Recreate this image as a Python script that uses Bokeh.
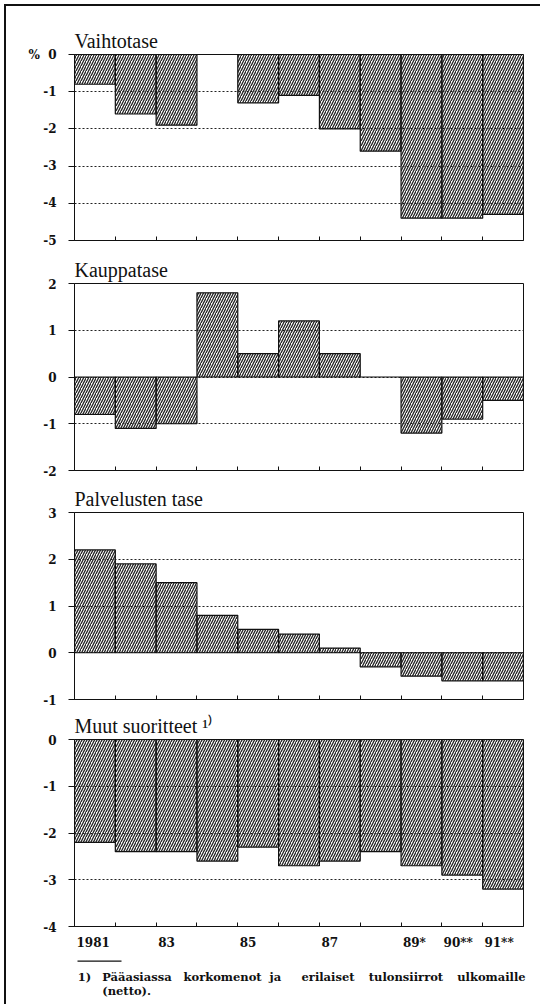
from bokeh.plotting import figure
from bokeh.models import Range1d, FixedTicker, Spacer
from bokeh.layouts import column, row
from bokeh.core.properties import value
from bokeh.embed import file_html
from bokeh.resources import INLINE

# ---- data ----
years = [1981, 1982, 1983, 1984, 1985, 1986, 1987, 1988, 1989, 1990, 1991]
vaihtotase = [-0.8, -1.6, -1.9, 0.0, -1.3, -1.1, -2.0, -2.6, -4.4, -4.4, -4.3]
kauppatase = [-0.8, -1.1, -1.0, 1.8, 0.5, 1.2, 0.5, 0.0, -1.2, -0.9, -0.5]
palvelusten_tase = [2.2, 1.9, 1.5, 0.8, 0.5, 0.4, 0.1, -0.3, -0.5, -0.6, -0.6]
muut_suoritteet = [-2.2, -2.4, -2.4, -2.6, -2.3, -2.7, -2.6, -2.4, -2.7, -2.9, -3.2]

titles = ["Vaihtotase", "Kauppatase", "Palvelusten tase", "Muut suoritteet \u00b9\u207e"]
y_limits = [(-5, 0), (-2, 2), (-1, 3), (-4, 0)]
label_years = [1981, 1983, 1985, 1987, 1989, 1990, 1991]
tick_labels = ["1981", "83", "85", "87", "89*", "90**", "91**"]
footnote_words = ["1)", "P\u00e4\u00e4asiassa", "korkomenot", "ja", "erilaiset", "tulonsiirrot", "ulkomaille"]
footnote_2 = "(netto)."

# ---- layout ----
W = 534
ML, MR = 68, 17
frame_w = W - ML - MR
px_per_year = frame_w / len(years)
TICK_FONT = "DejaVu Serif"
TITLE_FONT = "Liberation Sans Narrow"
INK = "#111111"
TICK_PX = 12


def text_w(s):
    return sum(0.5 * TICK_PX if c == "*" else 0.696 * TICK_PX for c in s)


label_x = [y - 0.5 + (2.0 + text_w(t) / 2) / px_per_year for y, t in zip(label_years, tick_labels)]
boundaries = [y + 0.5 for y in years[:-1]]


def make_panel(title, values, ylim, height, top, bottom, last=False, first=False):
    p = figure(width=W, height=height, output_backend="svg", toolbar_location=None,
               x_range=Range1d(years[0] - 0.5, years[-1] + 0.5),
               y_range=Range1d(*ylim),
               min_border_left=ML, min_border_right=MR,
               min_border_top=top, min_border_bottom=bottom,
               background_fill_color="white", border_fill_color="white",
               outline_line_color=INK, outline_line_width=1)
    p.title.text = title
    p.title.text_font = TITLE_FONT
    p.title.text_font_size = "20px"
    p.title.text_font_style = "normal"
    p.title.text_color = INK
    p.title.align = "left"
    p.title.standoff = 5.5

    p.ygrid.grid_line_color = "#222222"
    p.ygrid.grid_line_dash = "2 2"
    p.ygrid.grid_line_width = 1
    p.xgrid.visible = False

    p.vbar(x=years, top=values, bottom=0, width=1,
           fill_color=None, line_color=INK, line_width=1.2,
           hatch_pattern="/", hatch_scale=5, hatch_weight=1.3, hatch_color="#222222")

    ticks = list(range(ylim[0], ylim[1] + 1))
    ya = p.yaxis[0]
    ya.ticker = FixedTicker(ticks=ticks)
    ya.major_tick_out = 6
    ya.major_tick_in = 0
    ya.minor_tick_out = 0
    ya.minor_tick_in = 0
    ya.major_label_standoff = 12
    ya.major_label_text_font = TICK_FONT
    ya.major_label_text_font_style = "bold"
    ya.major_label_text_font_size = f"{TICK_PX}px"
    ya.major_label_text_color = INK
    ya.axis_line_color = INK
    ya.major_tick_line_color = INK
    overrides = {t: str(t) for t in ticks}
    if first:
        overrides[0] = "%\u00a0\u00a00"
    ya.major_label_overrides = overrides

    xa = p.xaxis[0]
    xa.ticker = FixedTicker(ticks=label_x if last else [], minor_ticks=boundaries)
    xa.major_tick_in = 0
    xa.major_tick_out = 0
    xa.minor_tick_in = 4
    xa.minor_tick_out = 0
    xa.axis_line_color = INK
    xa.minor_tick_line_color = INK
    if last:
        xa.major_label_overrides = {x: t for x, t in zip(label_x, tick_labels)}
        xa.major_label_standoff = 9
        xa.major_label_text_font = TICK_FONT
        xa.major_label_text_font_style = "bold"
        xa.major_label_text_font_size = f"{TICK_PX}px"
        xa.major_label_text_color = INK
    else:
        xa.major_label_text_font_size = "0px"
        xa.major_label_standoff = 0
    return p


p1 = make_panel(titles[0], vaihtotase, y_limits[0], 242, 48, 8, first=True)
p2 = make_panel(titles[1], kauppatase, y_limits[1], 231, 35, 9)
p3 = make_panel(titles[2], palvelusten_tase, y_limits[2], 228, 33, 8)
p4 = make_panel(titles[3], muut_suoritteet, y_limits[3], 245, 32, 24, last=True)

# footnote panel (pixel coordinates relative to the panel, y downward)
FH = 52
pf = figure(width=W, height=FH, output_backend="svg", toolbar_location=None,
            x_range=Range1d(0, W), y_range=Range1d(FH, 0),
            x_axis_type=None, y_axis_type=None,
            min_border=0, min_border_left=0, min_border_right=0,
            min_border_top=0, min_border_bottom=0,
            background_fill_color="white", border_fill_color="white",
            outline_line_color=None)
if hasattr(pf, "frame_align"):
    pf.frame_align = False
pf.xgrid.visible = False
pf.ygrid.visible = False
word_x = [71.3, 95.7, 177, 263, 295, 362.3, 450.7]
pf.segment(x0=[71.0], y0=[8.7], x1=[115.0], y1=[8.7], line_color=INK, line_width=1.3)
pf.text(x=word_x, y=[24.7] * len(word_x), text=footnote_words,
        text_font=value(TICK_FONT), text_font_style="bold", text_font_size="11.5px",
        text_color=INK, text_align="left", text_baseline="alphabetic")
pf.text(x=[95.7], y=[38.5], text=[footnote_2],
        text_font=value(TICK_FONT), text_font_style="bold", text_font_size="11.5px",
        text_color=INK, text_align="left", text_baseline="alphabetic")

top_rule = Spacer(width=536, height=2, styles={"background-color": INK})
left_rule = Spacer(width=2, height=998, styles={"background-color": INK})
layout = column(
    Spacer(width=540, height=4),
    row(Spacer(width=4, height=2), top_rule),
    row(Spacer(width=4, height=998), left_rule, column(p1, p2, p3, p4, pf)),
)

open("out.html", "w").write(file_html(layout, INLINE))
